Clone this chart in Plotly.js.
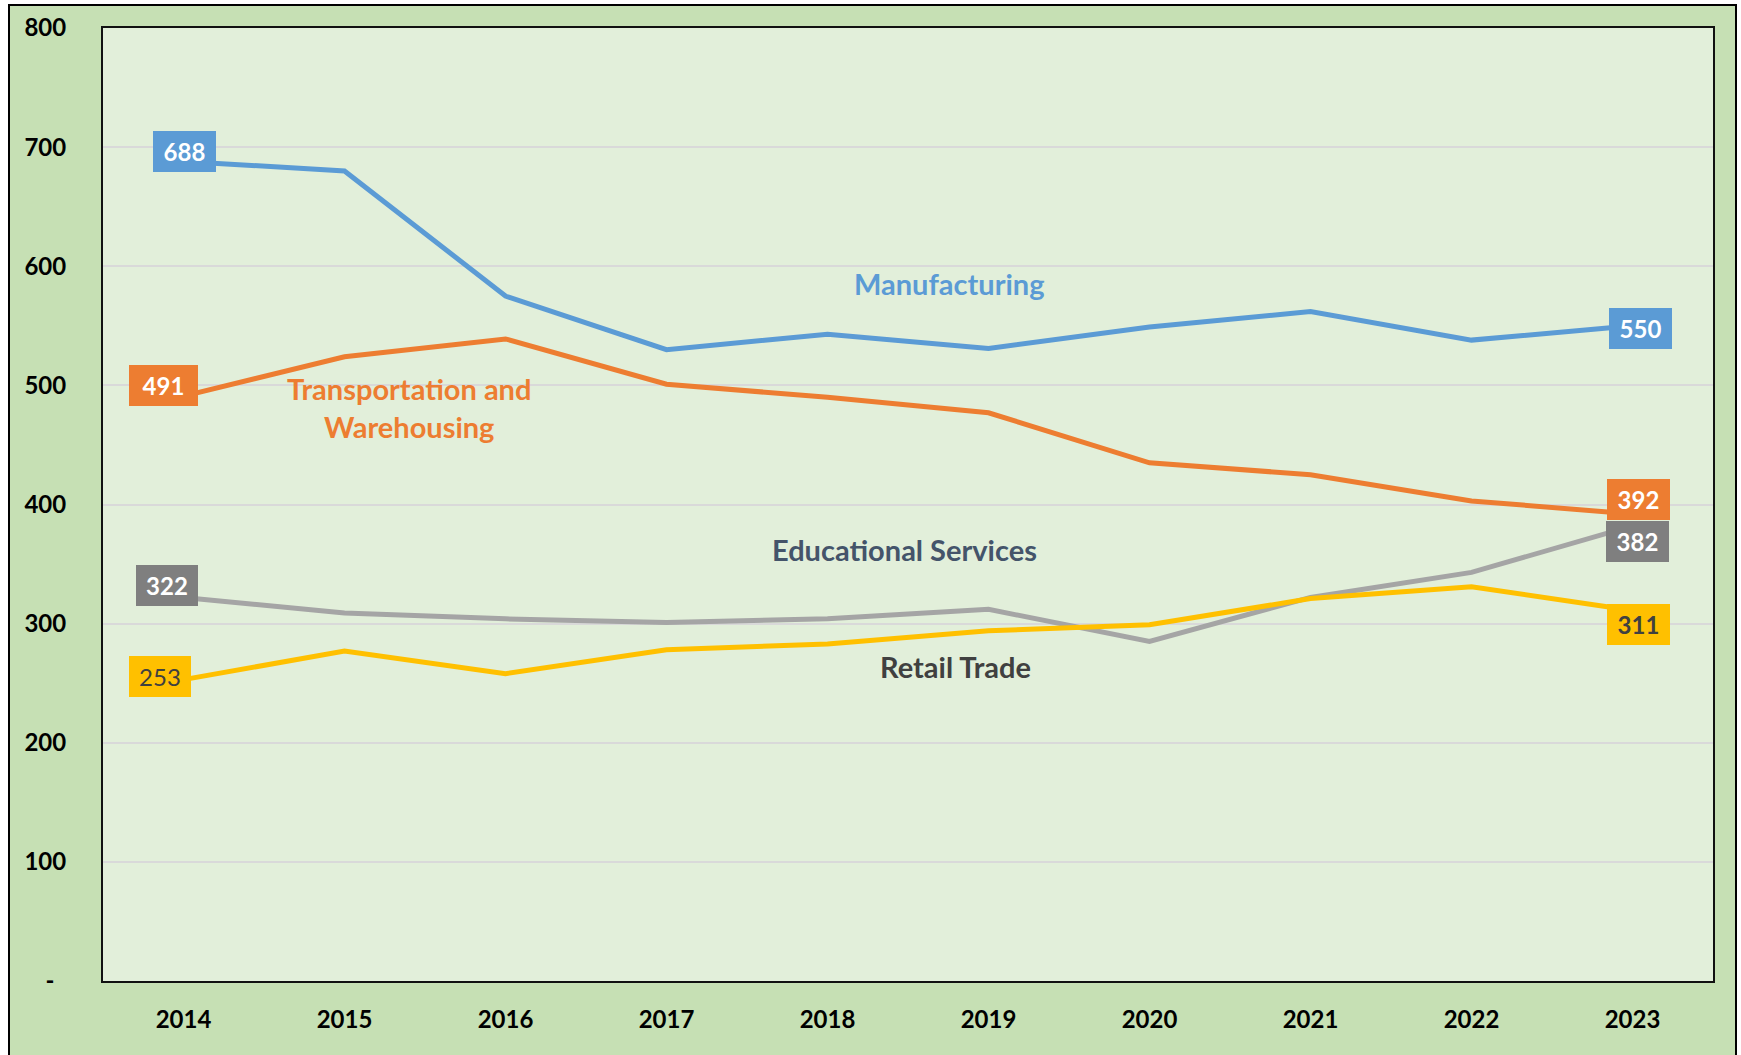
<!DOCTYPE html>
<html>
<head>
<meta charset="utf-8">
<script src="https://cdn.plot.ly/plotly-3.0.1.min.js"></script>
<style>
  html, body { margin: 0; padding: 0; background: #ffffff; }
  #frame {
    position: absolute; left: 8px; top: 4px;
    width: 1725px; height: 1051px;
    border: 2px solid #000; border-bottom: none;
    background: #C6E0B4; overflow: hidden;
  }
  #chart { width: 1725px; height: 1049px; }
</style>
</head>
<body>
<div id="frame"><div id="chart"></div></div>
<script>
// ---- data ----
const years = ['2014','2015','2016','2017','2018','2019','2020','2021','2022','2023'];
const manufacturing  = [688, 680, 575, 530, 543, 531, 549, 562, 538, 550];
const transportation = [491, 524, 539, 501, 490, 477, 435, 425, 403, 392];
const educational    = [322, 309, 304, 301, 304, 312, 285, 322, 343, 382];
const retail         = [253, 277, 258, 278, 283, 294, 299, 321, 331, 311];
const seriesNames = ['Manufacturing', 'Transportation and<br>Warehousing', 'Educational Services', 'Retail Trade'];
const yTickVals = [0, 100, 200, 300, 400, 500, 600, 700, 800];
const yTickText = ['-\u00a0\u00a0', '100', '200', '300', '400', '500', '600', '700', '800'];

// ---- styles ----
const FONT = 'Lato, "Open Sans", sans-serif';
const colors = ['#5B9BD5', '#ED7D31', '#A5A5A5', '#FFC000'];
const boxColors = ['#5B9BD5', '#ED7D31', '#7F7F7F', '#FFC000'];
const allSeries = [manufacturing, transportation, educational, retail];

const traces = allSeries.map((s, i) => ({
  x: years, y: s, type: 'scatter', mode: 'lines',
  line: { color: colors[i], width: 5 },
  hoverinfo: 'x+y', showlegend: false
}));

// end-point value boxes: [series index, point index, xshift, yshift, width, textcolor, weight]
const boxSpecs = [
  [0, 0, 1, 10, 63, '#ffffff', 'bold'],
  [1, 0, -20, 11, 69, '#ffffff', 'bold'],
  [2, 0, -17, 12, 62, '#ffffff', 'bold'],
  [3, 0, -24, 3, 62, '#404040', 'normal'],
  [0, 9, 8, -3, 63, '#ffffff', 'bold'],
  [1, 9, 6, 15, 63, '#ffffff', 'bold'],
  [2, 9, 5, -16, 63, '#ffffff', 'bold'],
  [3, 9, 6, -14, 63, '#404040', 'bold']
];
const annotations = boxSpecs.map(([si, pi, xs, ys, w, tc, wt]) => ({
  x: pi, y: allSeries[si][pi], xref: 'x', yref: 'y',
  text: String(allSeries[si][pi]), showarrow: false,
  xanchor: 'center', yanchor: 'middle',
  xshift: xs, yshift: ys, width: w, height: 41,
  bgcolor: boxColors[si], borderpad: 0, borderwidth: 0,
  font: { family: FONT, size: 24, color: tc, weight: wt },
  align: 'center', valign: 'middle'
}));

// series name labels
const nameSpecs = [
  [0, 0.5255, 0.7324, '#5B9BD5'],
  [1, 0.1901, 0.6018, '#ED7D31'],
  [2, 0.4981, 0.4523, '#44546A'],
  [3, 0.5295, 0.3295, '#404040']
];
nameSpecs.forEach(([i, px, py, c]) => annotations.push({
  x: px, y: py, xref: 'paper', yref: 'paper', xanchor: 'center', yanchor: 'middle',
  text: seriesNames[i], showarrow: false, align: 'center',
  font: { family: FONT, size: 29, color: c, weight: 'bold' }
}));

const layout = {
  width: 1725, height: 1049,
  margin: { l: 93, r: 22, t: 22, b: 74, pad: 0 },
  paper_bgcolor: '#C6E0B4',
  plot_bgcolor: '#E2EFDA',
  showlegend: false,
  font: { family: FONT, size: 24, color: '#000000' },
  xaxis: {
    type: 'category', range: [-0.5, 9.5],
    showgrid: false, zeroline: false,
    showline: true, mirror: true, linecolor: '#111111', linewidth: 2,
    ticks: 'outside', ticklen: 16, tickcolor: 'rgba(0,0,0,0)',
    tickfont: { family: FONT, size: 24, color: '#000000', weight: 'bold' }
  },
  yaxis: {
    range: [0, 800], tickvals: yTickVals, ticktext: yTickText,
    showgrid: true, gridcolor: '#D9D9D9', gridwidth: 2,
    zeroline: false,
    showline: true, mirror: true, linecolor: '#111111', linewidth: 2,
    ticks: 'outside', ticklen: 30, tickcolor: 'rgba(0,0,0,0)',
    tickfont: { family: FONT, size: 24, color: '#000000', weight: 'bold' }
  },
  annotations: annotations
};

Plotly.newPlot('chart', traces, layout, { displayModeBar: false, staticPlot: true });
</script>
</body>
</html>
